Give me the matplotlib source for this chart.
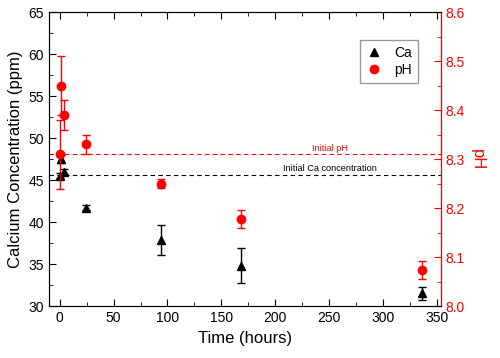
import numpy as np
import matplotlib.pyplot as plt
from matplotlib.ticker import MultipleLocator

plt.rcParams['font.family'] = ['Liberation Sans', 'DejaVu Sans']

# Calcium data (ppm)
ca_time = [0, 1, 4, 24, 94, 168, 336]
ca_val = [45.5, 47.5, 46.0, 41.7, 37.9, 34.8, 31.5]
ca_err = [0.3, 0.5, 0.3, 0.3, 1.8, 2.1, 0.8]

# pH data
ph_time = [0, 1, 4, 24, 94, 168, 336]
ph_val = [8.31, 8.45, 8.39, 8.33, 8.25, 8.178, 8.074]
ph_err = [0.07, 0.06, 0.03, 0.02, 0.009, 0.019, 0.018]

init_ca = 45.6
init_ph = 8.31

fig = plt.figure(figsize=(5, 3.58), dpi=100)
ax = fig.add_axes([0.098, 0.145, 0.784, 0.821])
ax2 = ax.twinx()

ax.axhline(init_ca, color='black', linestyle='--', linewidth=0.8, dashes=(4, 3))
ax2.axhline(init_ph, color='red', linestyle='--', linewidth=0.8, dashes=(4, 3))
ax.text(207, init_ca + 0.2, 'Initial Ca concentration', fontsize=6.6, color='black', va='bottom')
ax2.text(234, init_ph + 0.003, 'Initial pH', fontsize=6.6, color='red', va='bottom')

h1 = ax.errorbar(ca_time, ca_val, yerr=ca_err, fmt='^', color='black', markersize=6,
                 capsize=3, elinewidth=1, capthick=1, label='Ca')
h2 = ax2.errorbar(ph_time, ph_val, yerr=ph_err, fmt='o', color='red', markersize=6,
                  capsize=3, elinewidth=1, capthick=1, label='pH')

ax.set_xlim(-10, 354)
ax.set_ylim(30, 65)
ax2.set_ylim(8.0, 8.6)

ax.xaxis.set_major_locator(MultipleLocator(50))
ax.xaxis.set_minor_locator(MultipleLocator(25))
ax.yaxis.set_major_locator(MultipleLocator(5))
ax.yaxis.set_minor_locator(MultipleLocator(2.5))
ax2.yaxis.set_major_locator(MultipleLocator(0.1))
ax2.yaxis.set_minor_locator(MultipleLocator(0.05))

ax.tick_params(which='both', direction='in', top=True, labelsize=10)
ax.tick_params(which='major', length=5)
ax.tick_params(which='minor', length=3)
ax2.tick_params(which='both', direction='in', colors='red', labelsize=10)
ax2.tick_params(which='major', length=5)
ax2.tick_params(which='minor', length=3)
ax2.spines['right'].set_color('red')

ax.set_xlabel('Time (hours)', fontsize=12)
ax.set_ylabel('Calcium Concentration (ppm)', fontsize=12)
ax2.set_ylabel('pH', fontsize=12, color='red', rotation=270, labelpad=14)

leg = ax.legend([h1[0], h2[0]], ['Ca', 'pH'], loc='upper left', bbox_to_anchor=(0.793, 0.905),
                borderaxespad=0, fontsize=10, frameon=True, fancybox=False,
                handlelength=1.2, handletextpad=0.9, borderpad=0.4, labelspacing=0.25)
leg.get_frame().set_edgecolor('gray')

fig.savefig('out.png', dpi=100)
